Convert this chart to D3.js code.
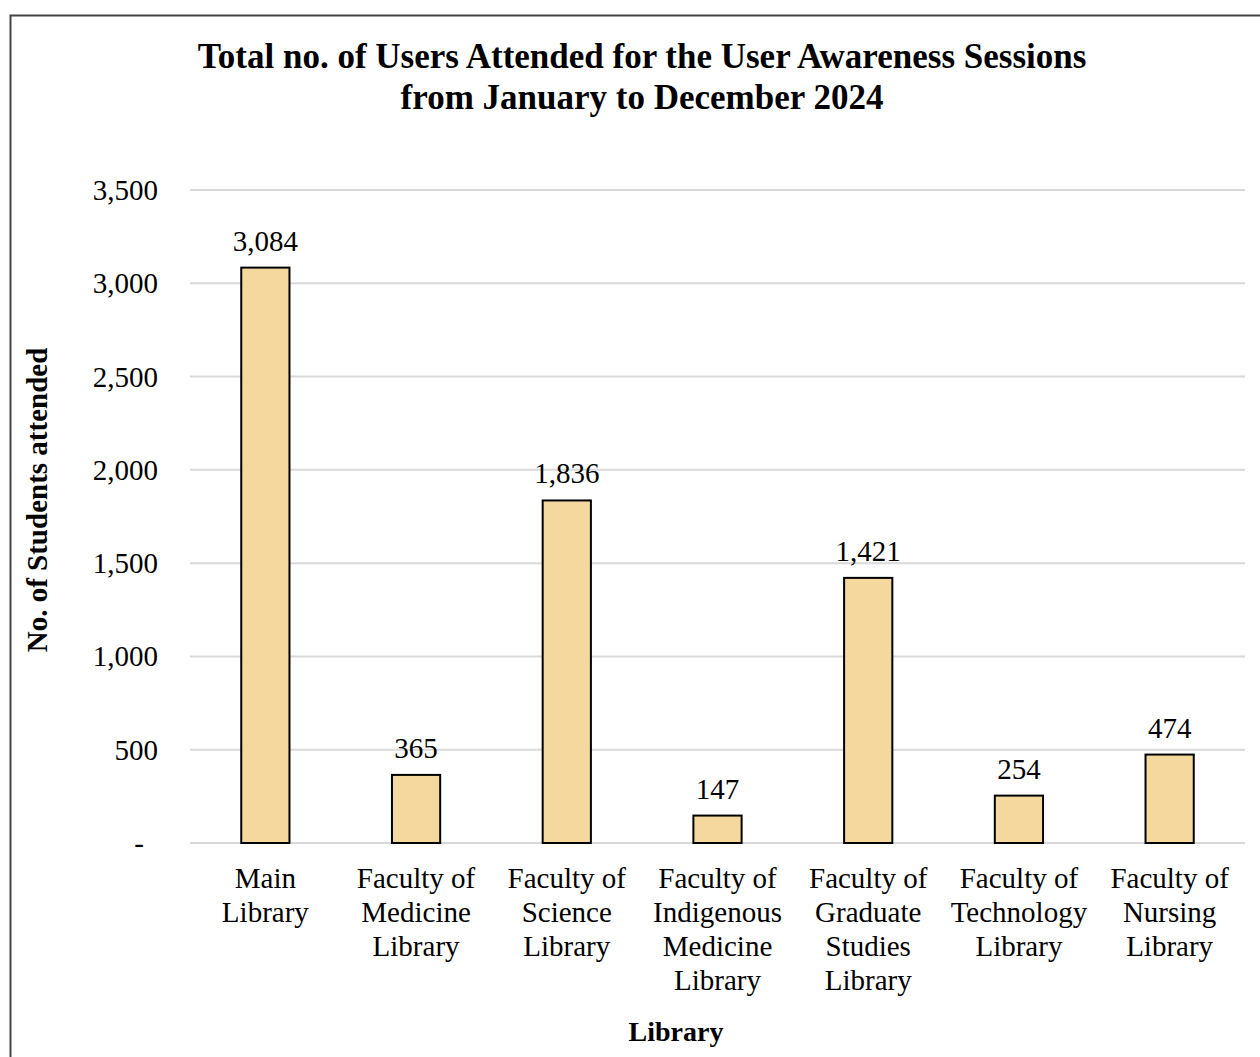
<!DOCTYPE html>
<html>
<head>
<meta charset="utf-8">
<script src="https://cdn.jsdelivr.net/npm/d3@7"></script>
<style>
  body { margin: 0; background: #fff; }
  text { font-family: "Liberation Serif", "Times New Roman", serif; fill: #000; }
</style>
</head>
<body>
<svg id="chart" width="1260" height="1057"></svg>
<script>
const libraries = [
  ['Main', 'Library'],
  ['Faculty of', 'Medicine', 'Library'],
  ['Faculty of', 'Science', 'Library'],
  ['Faculty of', 'Indigenous', 'Medicine', 'Library'],
  ['Faculty of', 'Graduate', 'Studies', 'Library'],
  ['Faculty of', 'Technology', 'Library'],
  ['Faculty of', 'Nursing', 'Library']
];
const students = [3084, 365, 1836, 147, 1421, 254, 474];
const yTicks = [0, 500, 1000, 1500, 2000, 2500, 3000, 3500];

let svg = d3.select('#chart');
const margin = { top: 190, left: 190, right: 15, bottom: 214 };
let width = 1260, height = 1057;
let fmt = d3.format(',');

// outer frame
svg.append('rect')
  .attr('x', 10.5).attr('y', 15.5)
  .attr('width', 1300).attr('height', 1100)
  .attr('fill', 'none').attr('stroke', '#444').attr('stroke-width', 2);

let x = d3.scaleBand()
  .domain(d3.range(libraries.length))
  .range([margin.left, width - margin.right])
  .paddingInner(0.68)
  .paddingOuter(0.34);

let y = d3.scaleLinear()
  .domain([0, 3500])
  .range([height - margin.bottom, margin.top]);

// gridlines
svg.append('g')
  .selectAll('line')
  .data(yTicks)
  .enter()
  .append('line')
  .attr('x1', margin.left)
  .attr('x2', width - margin.right)
  .attr('y1', (d) => y(d))
  .attr('y2', (d) => y(d))
  .attr('stroke', '#d9d9d9')
  .attr('stroke-width', 2);

// y tick labels
svg.append('g')
  .selectAll('text')
  .data(yTicks)
  .enter()
  .append('text')
  .attr('x', (d) => d === 0 ? 144 : 158)
  .attr('y', (d) => y(d) + 10)
  .attr('text-anchor', 'end')
  .style('font-size', '29px')
  .text((d) => d === 0 ? '-' : fmt(d));

// bars
svg.append('g')
  .selectAll('rect')
  .data(students)
  .enter()
  .append('rect')
  .attr('x', (d, i) => x(i))
  .attr('y', (d) => y(d))
  .attr('width', x.bandwidth())
  .attr('height', (d) => y(0) - y(d))
  .attr('fill', '#f5d89d')
  .attr('stroke', '#000')
  .attr('stroke-width', 2);

// value labels
svg.append('g')
  .selectAll('text')
  .data(students)
  .enter()
  .append('text')
  .attr('x', (d, i) => x(i) + x.bandwidth() / 2)
  .attr('y', (d) => y(d) - 17)
  .attr('text-anchor', 'middle')
  .style('font-size', '29px')
  .text((d) => fmt(d));

// category labels
let cat = svg.append('g')
  .selectAll('text')
  .data(libraries)
  .enter()
  .append('text')
  .attr('text-anchor', 'middle')
  .style('font-size', '29px');

cat.selectAll('tspan')
  .data((d, i) => d.map((s) => ({ s: s, i: i })))
  .enter()
  .append('tspan')
  .attr('x', (d) => x(d.i) + x.bandwidth() / 2)
  .attr('y', (d, j) => 888 + j * 34)
  .text((d) => d.s);

// title
svg.append('text')
  .attr('x', 642)
  .attr('text-anchor', 'middle')
  .style('font-size', '35px')
  .style('font-weight', 'bold')
  .selectAll('tspan')
  .data(['Total no. of Users Attended for the User Awareness Sessions', 'from January to December 2024'])
  .enter()
  .append('tspan')
  .attr('x', 642)
  .attr('y', (d, i) => 68 + i * 41)
  .text((d) => d);

// axis titles
svg.append('text')
  .attr('x', 676)
  .attr('y', 1041)
  .attr('text-anchor', 'middle')
  .style('font-size', '28px')
  .style('font-weight', 'bold')
  .text('Library');

svg.append('text')
  .attr('transform', 'translate(47,500) rotate(-90)')
  .attr('text-anchor', 'middle')
  .style('font-size', '29px')
  .style('font-weight', 'bold')
  .text('No. of Students  attended');
</script>
</body>
</html>
